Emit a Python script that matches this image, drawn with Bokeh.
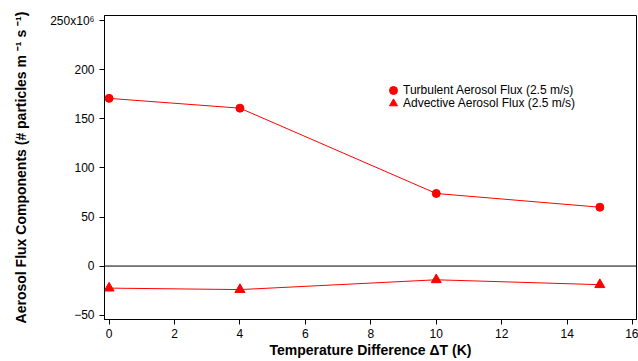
from bokeh.plotting import figure
from bokeh.models import Legend, LegendItem, Span, FixedTicker, Range1d
from bokeh.embed import file_html
from bokeh.resources import INLINE

delta_t = [0, 4, 10, 15]
turbulent = [171, 161, 74, 60]
advective = [-22.5, -24, -14, -19]
x_ticks = [0, 2, 4, 6, 8, 10, 12, 14, 16]
y_ticks = [-50, 0, 50, 100, 150, 200, 250]
series_labels = ["Turbulent Aerosol Flux (2.5 m/s)", "Advective Aerosol Flux (2.5 m/s)"]

FONT = "Liberation Sans"

p = figure(width=638, height=361, output_backend="svg", toolbar_location=None,
           x_range=Range1d(-0.14, 16.12), y_range=Range1d(-54.5, 255.5))
p.min_border_left = 104
p.min_border_right = 2
p.min_border_top = 15
p.min_border_bottom = 42
p.background_fill_color = "white"
p.border_fill_color = "white"
p.outline_line_color = "black"
p.outline_line_width = 1
p.grid.visible = False

p.xaxis.ticker = FixedTicker(ticks=x_ticks)
p.yaxis.ticker = FixedTicker(ticks=y_ticks)
p.yaxis.major_label_overrides = {250: "250x10\u2076"}
for ax in (p.xaxis[0], p.yaxis[0]):
    ax.axis_line_color = "black"
    ax.major_tick_line_color = "black"
    ax.minor_tick_line_color = None
    ax.major_tick_in = 0
    ax.major_tick_out = 5
    ax.major_label_text_font = FONT
    ax.major_label_text_font_size = "12px"
    ax.major_label_text_color = "black"
    ax.axis_label_text_font = FONT
    ax.axis_label_text_font_size = "14px"
    ax.axis_label_text_font_style = "bold"
    ax.axis_label_text_color = "black"
p.xaxis.axis_label = "Temperature Difference \u0394T (K)"
p.yaxis.axis_label = "Aerosol Flux Components (# particles m \u207b\u00b9 s \u207b\u00b9)"
p.xaxis.axis_label_standoff = 1
p.yaxis.axis_label_standoff = 18
p.xaxis.major_label_standoff = 4
p.yaxis.major_label_standoff = 5

p.add_layout(Span(location=0, dimension="width", line_color="black", line_width=1))

p.line(delta_t, turbulent, line_color="red", line_width=1)
r1 = p.scatter(delta_t, turbulent, marker="circle", size=8, fill_color="red", line_color="red")
p.line(delta_t, advective, line_color="red", line_width=1)
r2 = p.scatter(delta_t, advective, marker="triangle", size=10, fill_color="red", line_color="red")


def make_legend(label, renderer, loc):
    lg = Legend(items=[LegendItem(label=label, renderers=[renderer])], location=loc)
    lg.border_line_color = None
    lg.background_fill_alpha = 0
    lg.padding = 0
    lg.margin = 0
    lg.spacing = 0
    lg.glyph_width = 20
    lg.glyph_height = 20
    lg.label_height = 20
    lg.label_standoff = 0
    lg.label_text_font = FONT
    lg.label_text_font_size = "12px"
    lg.label_text_color = "black"
    return lg


p.add_layout(make_legend(series_labels[0], r1, (279, 219)))
p.add_layout(make_legend(series_labels[1], r2, (279, 206)))

open("out.html", "w").write(file_html(p, INLINE))
